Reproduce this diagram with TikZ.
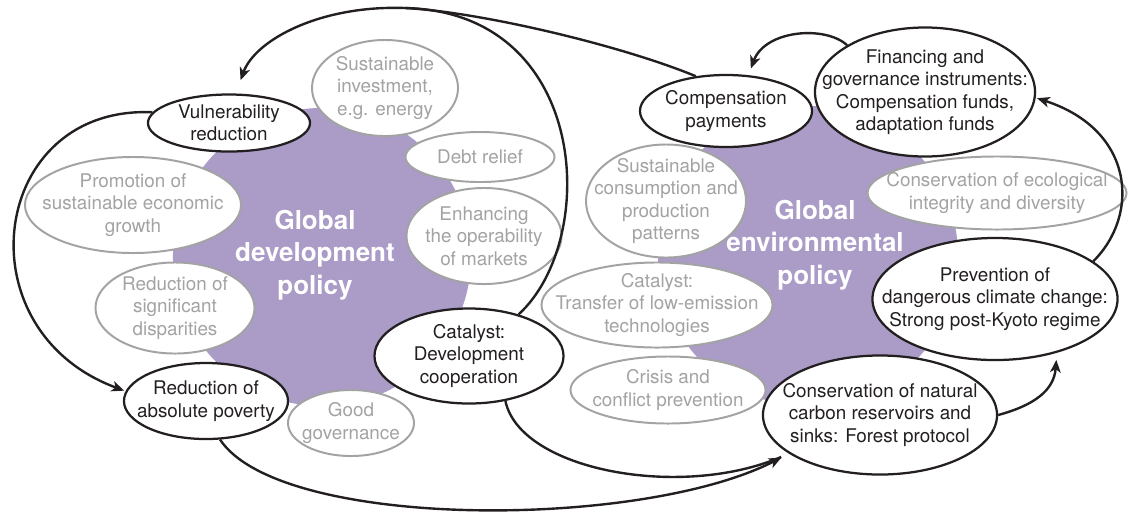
\documentclass[tikz,border=0pt]{standalone}
\usepackage{fontspec}
\setmainfont{TeX Gyre Heros}
\usepackage{tikz}
\usetikzlibrary{shapes.geometric,arrows.meta}

\definecolor{policylilac}{RGB}{170,155,199}
\definecolor{softgray}{RGB}{163,163,163}
\definecolor{inkblack}{RGB}{35,31,32}

\begin{document}
\begin{tikzpicture}[>={Stealth[length=9pt,width=7.5pt,inset=2.5pt]}, x=0.025cm, y=-0.025cm,
        blob/.style={circle, fill=policylilac, inner sep=0pt},
        blobtext/.style={text=white, align=center, font=\fontsize{18.5}{23}\selectfont\bfseries},
        keyell/.style={ellipse, draw=inkblack, line width=1.6pt, fill=white, inner sep=0pt},
        sideell/.style={ellipse, draw=softgray, line width=1.4pt, fill=white, inner sep=0pt},
        keytxt/.style={text=inkblack, align=center, font=\fontsize{13.4}{16}\selectfont},
        sidetxt/.style={text=softgray, align=center, font=\fontsize{13.4}{16}\selectfont},
        link/.style={draw=inkblack, line width=1.7pt}]
        \useasboundingbox (0,0) rectangle (1128,516);

        % the two policy discs
        \coordinate (devblob) at (322,257);
        \coordinate (envblob) at (808,256);
        \coordinate (devtitle) at (315,255);
        \coordinate (envtitle) at (815,245);
        % development side
        \coordinate (vul) at (229,123);
        \coordinate (susinv) at (385,88);
        \coordinate (debt) at (480,157);
        \coordinate (promo) at (133,205);
        \coordinate (enh) at (484,236);
        \coordinate (disp) at (175,308);
        \coordinate (pov) at (206,401);
        \coordinate (gov) at (351,423);
        \coordinate (catdev) at (469,356);
        % environment side
        \coordinate (comp) at (726,111);
        \coordinate (fin) at (925,92);
        \coordinate (scp) at (666,201);
        \coordinate (eco) at (997,193);
        \coordinate (tech) at (657,305);
        \coordinate (crisis) at (668,390);
        \coordinate (prev) at (995,299);
        \coordinate (forest) at (880,415);
        \coordinate (apex) at (405,8);

        \node[blob, minimum size=7.45cm] (DevBlob) at (devblob) {};
        \node[blob, minimum size=7.5cm] (EnvBlob) at (envblob) {};

        \node[keyell, minimum width=4.05cm, minimum height=1.425cm, label={[keytxt]center:{Vulnerability\\reduction}}] (Vul) at (vul) {};
        \node[sideell, minimum width=3.65cm, minimum height=2.4cm, label={[sidetxt]center:{Sustainable\\investment,\\e.g. energy}}] (SusInv) at (susinv) {};
        \node[sideell, minimum width=3.725cm, minimum height=1.25cm, label={[sidetxt]center:{Debt relief}}] (Debt) at (debt) {};
        \node[sideell, minimum width=5.4cm, minimum height=2.4cm, label={[sidetxt]center:{Promotion of\\sustainable economic\\growth}}] (Promo) at (promo) {};
        \node[sideell, minimum width=3.875cm, minimum height=2.4cm, label={[sidetxt]center:{Enhancing\\the operability\\of markets}}] (Enh) at (enh) {};
        \node[sideell, minimum width=3.975cm, minimum height=2.275cm, label={[sidetxt]center:{Reduction of\\significant\\disparities}}] (Disp) at (disp) {};
        \node[keyell, minimum width=4.1cm, minimum height=1.9cm, label={[keytxt]center:{Reduction of\\absolute poverty}}] (Pov) at (pov) {};
        \node[sideell, minimum width=3.15cm, minimum height=1.65cm, label={[sidetxt]center:{Good\\governance}}] (Gov) at (gov) {};
        \node[keyell, minimum width=4.725cm, minimum height=2.375cm, label={[keytxt]center:{Catalyst:\\Development\\cooperation}}] (CatDev) at (catdev) {};

        \node[keyell, minimum width=4.3cm, minimum height=1.8cm, label={[keytxt]center:{Compensation\\payments}}] (Comp) at (comp) {};
        \node[keyell, minimum width=5.5cm, minimum height=3.225cm, label={[keytxt]center:{Financing and\\governance instruments:\\Compensation funds,\\adaptation funds}}] (Fin) at (fin) {};
        \node[sideell, minimum width=4cm, minimum height=2.825cm, label={[sidetxt]center:{Sustainable\\consumption and\\production\\patterns}}] (Scp) at (scp) {};
        \node[sideell, minimum width=6.475cm, minimum height=1.825cm, label={[sidetxt]center:{Conservation of ecological\\integrity and diversity}}] (Eco) at (eco) {};
        \node[sideell, minimum width=5.775cm, minimum height=2.125cm, label={[sidetxt]center:{Catalyst:\\Transfer of low-emission\\technologies}}] (Tech) at (tech) {};
        \node[sideell, minimum width=4.875cm, minimum height=1.675cm, label={[sidetxt]center:{Crisis and\\conflict prevention}}] (Crisis) at (crisis) {};
        \node[keyell, minimum width=6.125cm, minimum height=3.05cm, label={[keytxt]center:{Prevention of\\dangerous climate change:\\Strong post-Kyoto regime}}] (Prev) at (prev) {};
        \node[keyell, minimum width=5.85cm, minimum height=2.975cm, label={[keytxt]center:{Conservation of natural\\carbon reservoirs and\\sinks: Forest protocol}}] (Forest) at (forest) {};

        \node[blobtext] (DevTitle) at (devtitle) {Global\\development\\policy};
        \node[blobtext] (EnvTitle) at (envtitle) {Global\\environmental\\policy};

        \path[link] (Comp.131) .. controls (620,45) and (480,12) .. (apex);
        \path[link,->,shorten >=10pt] (CatDev.40) .. controls (600,240) and (590,12) .. (apex)
            .. controls (320,5) and (255,40) .. (Vul.77);
        \path[link,->,shorten >=1pt] (Vul.172) .. controls (-10,105) and (-40,330) .. (Pov.173);
        \path[link,shorten >=6pt] (CatDev.-51) .. controls (520,470) and (680,500) .. (Forest.203);
        \path[link,->,shorten >=6pt] (Pov.-70) .. controls (280,530) and (640,530) .. (Forest.203);
        \path[link,->,shorten >=5pt] (Forest.east) .. controls (1035,405) and (1054,390) .. (Prev.-41);
        \path[link,->,shorten >=1pt] (Prev.21) .. controls (1140,215) and (1135,130) .. (Fin.-3);
        \path[link,->,shorten >=5pt] (Fin.149) .. controls (825,25) and (765,30) .. (Comp.58);
    \end{tikzpicture}
\end{document}
